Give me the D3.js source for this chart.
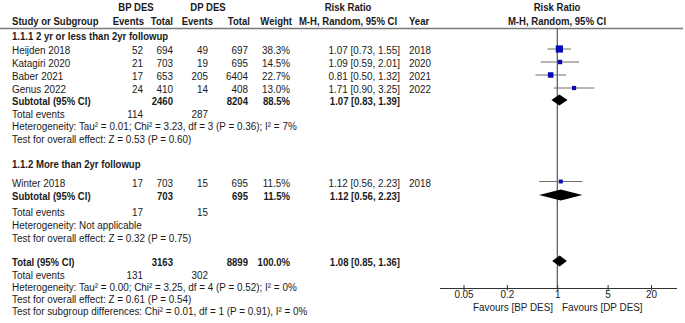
<!DOCTYPE html>
<html>
<head>
<meta charset="utf-8">
<script src="https://cdn.jsdelivr.net/npm/d3@7"></script>
<style>
  body { margin: 0; background: #fff; }
  svg text { font-family: "Liberation Sans", Arial, sans-serif; font-size: 11px; fill: #1a1a1a; }
  svg text.b { font-weight: bold; }
</style>
</head>
<body>
<div id="chart"></div>
<script>
// study level data
var studies = ["Heijden 2018", "Katagiri 2020", "Baber 2021", "Genus 2022", "Winter 2018"];
var bpEvents = [52, 21, 17, 24, 17];
var bpTotal = [694, 703, 653, 410, 703];
var dpEvents = [49, 19, 205, 14, 15];
var dpTotal = [697, 695, 6404, 408, 695];
var weights = [38.3, 14.5, 22.7, 13.0, 11.5];
var riskRatio = [1.07, 1.09, 0.81, 1.71, 1.12];
var ciLow = [0.73, 0.59, 0.50, 0.90, 0.56];
var ciHigh = [1.55, 2.01, 1.32, 3.25, 2.23];
var years = [2018, 2020, 2021, 2022, 2018];

// subgroups + overall
var subgroupTitles = ["1.1.1 2 yr or less than 2yr followup", "1.1.2 More than 2yr followup"];
var pooledLabels = ["Subtotal (95% CI)", "Subtotal (95% CI)", "Total (95% CI)"];
var pooledBpTotal = [2460, 703, 3163];
var pooledDpTotal = [8204, 695, 8899];
var pooledWeight = [88.5, 11.5, 100.0];
var pooledRR = [1.07, 1.12, 1.08];
var pooledLow = [0.83, 0.56, 0.85];
var pooledHigh = [1.39, 2.23, 1.36];
var totalEventsBp = [114, 17, 131];
var totalEventsDp = [287, 15, 302];
var heterogeneity = [
    "Heterogeneity: Tau\u00b2 = 0.01; Chi\u00b2 = 3.23, df = 3 (P = 0.36); I\u00b2 = 7%",
    "Heterogeneity: Not applicable",
    "Heterogeneity: Tau\u00b2 = 0.00; Chi\u00b2 = 3.25, df = 4 (P = 0.52); I\u00b2 = 0%"
];
var overallEffect = [
    "Test for overall effect: Z = 0.53 (P = 0.60)",
    "Test for overall effect: Z = 0.32 (P = 0.75)",
    "Test for overall effect: Z = 0.61 (P = 0.54)"
];
var subgroupTest = "Test for subgroup differences: Chi\u00b2 = 0.01, df = 1 (P = 0.91), I\u00b2 = 0%";

var axisTicks = [0.05, 0.2, 1, 5, 20];
var favours = ["Favours [BP DES]", "Favours [DP DES]"];

var W = 685, H = 323;
var squeeze = 0.9;   // reference text is a bit narrow

var svg = d3.select("#chart").append("svg")
    .attr("width", W)
    .attr("height", H);

// column anchors
var col = {name: 10, bpEv: 143, bpTot: 173, dpEv: 208, dpTot: 248, wt: 290, ci: 400, year: 409};

// baselines for each row of text
var studyY = [54, 67, 80, 93, 186.5];
var sectionY = [39.5, 168];
var pooledY = [105, 200, 266];
var eventsY = [118, 216, 278.5];
var hetY = [129.5, 228.5, 290.5];
var effectY = [142.5, 241.5, 302.5];
var subTestY = 314.5;
var markOffset = 5;

var x = d3.scaleLog()
    .domain([0.05, 20])
    .range([463.5, 651]);

var size = d3.scaleSqrt()
    .domain([0, d3.max(weights)])
    .range([0, 7.2]);

function txt(xp, yp, s, anchor, bold) {
    svg.append("text")
        .attr("transform", "translate(" + xp + "," + yp + ") scale(" + (bold ? 0.87 : squeeze) + ",1)")
        .attr("text-anchor", anchor || "start")
        .attr("class", bold ? "b" : null)
        .text(s);
}
function ciText(r, lo, hi) {
    return r.toFixed(2) + " [" + lo.toFixed(2) + ", " + hi.toFixed(2) + "]";
}

// Headers
txt(136, 11, "BP DES", "middle", true);
txt(208, 11, "DP DES", "middle", true);
txt(348, 11, "Risk Ratio", "middle", true);
txt(557, 11, "Risk Ratio", "middle", true);
txt(col.name + 2, 25, "Study or Subgroup", "start", true);
txt(col.bpEv + 1, 25, "Events", "end", true);
txt(col.bpTot, 25, "Total", "end", true);
txt(col.dpEv + 5, 25, "Events", "end", true);
txt(col.dpTot + 2, 25, "Total", "end", true);
txt(col.wt + 2, 25, "Weight", "end", true);
txt(348, 25, "M-H, Random, 95% CI", "middle", true);
txt(col.year, 25, "Year", "start", true);
txt(557, 25, "M-H, Random, 95% CI", "middle", true);

svg.append("line")
    .attr("x1", 0).attr("x2", 683)
    .attr("y1", 28.5).attr("y2", 28.5)
    .attr("stroke", "#7a7a7a")
    .attr("stroke-width", 1.3);

// Section titles
subgroupTitles.forEach(function(t, i) {
    txt(col.name + 2, sectionY[i], t, "start", true);
});

// Study rows
studies.forEach(function(s, i) {
    var y = studyY[i];
    txt(col.name + 2, y, s);
    txt(col.bpEv, y, bpEvents[i], "end");
    txt(col.bpTot, y, bpTotal[i], "end");
    txt(col.dpEv, y, dpEvents[i], "end");
    txt(col.dpTot, y, dpTotal[i], "end");
    txt(col.wt, y, weights[i].toFixed(1) + "%", "end");
    txt(col.ci, y, ciText(riskRatio[i], ciLow[i], ciHigh[i]), "end");
    txt(col.year, y, years[i]);
});

// Pooled rows + summary text
pooledLabels.forEach(function(p, i) {
    var y = pooledY[i];
    txt(col.name + 2, y, p, "start", true);
    txt(col.bpTot, y, pooledBpTotal[i], "end", true);
    txt(col.dpTot, y, pooledDpTotal[i], "end", true);
    txt(col.wt, y, pooledWeight[i].toFixed(1) + "%", "end", true);
    txt(col.ci, y, ciText(pooledRR[i], pooledLow[i], pooledHigh[i]), "end", true);

    txt(col.name + 2, eventsY[i], "Total events");
    txt(col.bpEv, eventsY[i], totalEventsBp[i], "end");
    txt(col.dpEv, eventsY[i], totalEventsDp[i], "end");
    txt(col.name + 2, hetY[i], heterogeneity[i]);
    txt(col.name + 2, effectY[i], overallEffect[i]);
});
txt(col.name + 2, subTestY, subgroupTest);

// Forest plot
var axisY = 288.5;

svg.append("line")
    .attr("x1", x(1)).attr("x2", x(1))
    .attr("y1", 28.5).attr("y2", axisY)
    .attr("stroke", "#333")
    .attr("stroke-width", 1);

var plot = svg.append("g");

plot.selectAll(".ci")
    .data(studies)
    .enter()
    .append("line")
    .attr("class", "ci")
    .attr("x1", function(d, i) { return x(ciLow[i]); })
    .attr("x2", function(d, i) { return x(ciHigh[i]); })
    .attr("y1", function(d, i) { return studyY[i] - markOffset; })
    .attr("y2", function(d, i) { return studyY[i] - markOffset; })
    .attr("stroke", "#6e6e6e")
    .attr("stroke-width", 1);

plot.selectAll(".box")
    .data(studies)
    .enter()
    .append("rect")
    .attr("class", "box")
    .attr("x", function(d, i) { return x(riskRatio[i]) - size(weights[i]) / 2; })
    .attr("y", function(d, i) { return studyY[i] - markOffset - size(weights[i]) / 2; })
    .attr("width", function(d, i) { return size(weights[i]); })
    .attr("height", function(d, i) { return size(weights[i]); })
    .attr("fill", "#0a0ab4");

plot.selectAll(".diamond")
    .data(pooledLabels)
    .enter()
    .append("polygon")
    .attr("class", "diamond")
    .attr("points", function(d, i) {
        var y = pooledY[i] - markOffset, h = 5.5;
        return [[x(pooledLow[i]), y], [x(pooledRR[i]), y - h],
                [x(pooledHigh[i]), y], [x(pooledRR[i]), y + h]].join(" ");
    })
    .attr("fill", "#000");

// Axis
var axisG = svg.append("g")
    .attr("transform", "translate(0," + axisY + ")");

axisG.append("line")
    .attr("x1", 440).attr("x2", 677)
    .attr("stroke", "#333");

var axis = d3.axisBottom(x)
    .tickValues(axisTicks)
    .tickFormat(function(d) { return d; })
    .tickSize(3)
    .tickPadding(2);

axisG.append("g")
    .call(axis)
    .call(function(g) {
        g.select(".domain").remove();
        g.selectAll(".tick line").attr("y1", -3.5).attr("y2", 2).attr("stroke", "#333");
        g.selectAll(".tick text")
            .attr("font-family", null)
            .attr("font-size", null)
            .attr("fill", null)
            .attr("dy", null)
            .attr("y", 9.5)
            .attr("transform", "scale(" + squeeze + ",1)");
    });

txt(553, 310.5, favours[0], "end");
txt(562, 310.5, favours[1], "start");
</script>
</body>
</html>
